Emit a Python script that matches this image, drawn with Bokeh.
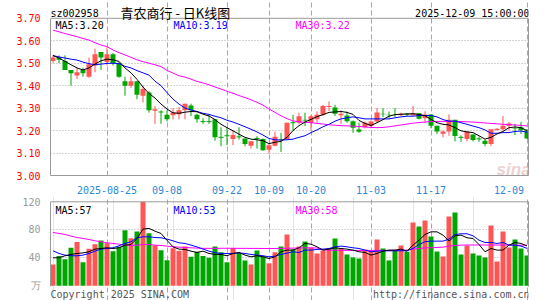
import numpy as np
from bokeh.plotting import figure
from bokeh.layouts import column
from bokeh.models import Range1d, FixedTicker, NumeralTickFormatter, Label, Grid, LinearAxis, Span
from bokeh.embed import file_html
from bokeh.resources import INLINE

# ---------------- data ----------------
open_ = [3.510, 3.525, 3.510, 3.470, 3.445, 3.470, 3.440, 3.490, 3.550, 3.505,
         3.540, 3.500, 3.420, 3.400, 3.420, 3.355, 3.370, 3.288, 3.285, 3.270,
         3.268, 3.273, 3.290, 3.312, 3.270, 3.240, 3.240, 3.250, 3.170, 3.177,
         3.162, 3.172, 3.165, 3.133, 3.165, 3.162, 3.115, 3.133, 3.162, 3.162,
         3.235, 3.235, 3.248, 3.235, 3.250, 3.270, 3.305, 3.303, 3.268, 3.267,
         3.242, 3.205, 3.215, 3.220, 3.240, 3.275, 3.270, 3.273, 3.268, 3.273,
         3.268, 3.277, 3.255, 3.272, 3.222, 3.186, 3.196, 3.248, 3.170, 3.163,
         3.183, 3.163, 3.155, 3.140, 3.203, 3.206, 3.222, 3.212, 3.215, 3.200]
close = [3.525, 3.515, 3.470, 3.455, 3.460, 3.455, 3.495, 3.540, 3.525, 3.540,
         3.500, 3.440, 3.400, 3.420, 3.360, 3.385, 3.290, 3.295, 3.280, 3.250,
         3.280, 3.290, 3.320, 3.290, 3.250, 3.240, 3.240, 3.170, 3.170, 3.177,
         3.180, 3.172, 3.140, 3.152, 3.165, 3.112, 3.135, 3.172, 3.160, 3.235,
         3.235, 3.264, 3.245, 3.264, 3.270, 3.310, 3.310, 3.275, 3.275, 3.242,
         3.213, 3.195, 3.235, 3.240, 3.280, 3.273, 3.268, 3.272, 3.275, 3.273,
         3.277, 3.253, 3.272, 3.222, 3.196, 3.196, 3.248, 3.176, 3.170, 3.196,
         3.158, 3.163, 3.140, 3.206, 3.208, 3.222, 3.232, 3.209, 3.203, 3.165]
high = [3.535, 3.535, 3.535, 3.470, 3.480, 3.480, 3.525, 3.565, 3.550, 3.570,
        3.545, 3.505, 3.440, 3.440, 3.420, 3.400, 3.375, 3.310, 3.290, 3.290,
        3.300, 3.305, 3.320, 3.320, 3.275, 3.255, 3.270, 3.250, 3.215, 3.215,
        3.200, 3.215, 3.165, 3.152, 3.175, 3.165, 3.140, 3.195, 3.190, 3.235,
        3.270, 3.280, 3.280, 3.270, 3.285, 3.315, 3.330, 3.315, 3.290, 3.285,
        3.245, 3.235, 3.240, 3.245, 3.300, 3.300, 3.285, 3.300, 3.280, 3.278,
        3.310, 3.277, 3.286, 3.272, 3.222, 3.200, 3.272, 3.248, 3.178, 3.196,
        3.183, 3.173, 3.160, 3.206, 3.210, 3.265, 3.238, 3.230, 3.238, 3.207]
low = [3.500, 3.500, 3.470, 3.400, 3.430, 3.440, 3.435, 3.460, 3.470, 3.490,
       3.490, 3.435, 3.355, 3.390, 3.340, 3.325, 3.280, 3.230, 3.230, 3.240,
       3.250, 3.250, 3.250, 3.265, 3.235, 3.230, 3.230, 3.155, 3.130, 3.135,
       3.135, 3.160, 3.130, 3.120, 3.120, 3.110, 3.097, 3.130, 3.105, 3.160,
       3.200, 3.228, 3.220, 3.200, 3.235, 3.265, 3.287, 3.265, 3.230, 3.235,
       3.190, 3.190, 3.210, 3.210, 3.235, 3.260, 3.255, 3.260, 3.265, 3.265,
       3.265, 3.250, 3.235, 3.210, 3.185, 3.170, 3.177, 3.152, 3.150, 3.152,
       3.152, 3.150, 3.130, 3.130, 3.200, 3.200, 3.200, 3.180, 3.185, 3.162]
ma5 = [3.534, 3.523, 3.508, 3.493, 3.479, 3.470, 3.479, 3.496, 3.511, 3.518,
       3.515, 3.508, 3.479, 3.457, 3.428, 3.394, 3.365, 3.345, 3.318, 3.296,
       3.279, 3.277, 3.282, 3.285, 3.284, 3.273, 3.265, 3.249, 3.228, 3.213,
       3.199, 3.184, 3.170, 3.162, 3.159, 3.155, 3.142, 3.148, 3.152, 3.170,
       3.200, 3.222, 3.238, 3.250, 3.262, 3.271, 3.281, 3.283, 3.285, 3.281,
       3.272, 3.245, 3.232, 3.223, 3.235, 3.249, 3.264, 3.271, 3.273, 3.274,
       3.275, 3.272, 3.266, 3.250, 3.235, 3.228, 3.225, 3.213, 3.199, 3.194,
       3.191, 3.177, 3.162, 3.170, 3.185, 3.196, 3.213, 3.216, 3.213, 3.200]
ma10 = [3.534, 3.528, 3.523, 3.518, 3.514, 3.505, 3.498, 3.493, 3.496, 3.499,
        3.500, 3.498, 3.486, 3.479, 3.467, 3.457, 3.447, 3.420, 3.400, 3.369,
        3.340, 3.318, 3.300, 3.292, 3.285, 3.277, 3.272, 3.264, 3.257, 3.246,
        3.238, 3.228, 3.217, 3.206, 3.194, 3.180, 3.165, 3.159, 3.158, 3.159,
        3.162, 3.170, 3.177, 3.191, 3.203, 3.217, 3.228, 3.242, 3.252, 3.257,
        3.261, 3.257, 3.252, 3.252, 3.252, 3.252, 3.252, 3.257, 3.261, 3.264,
        3.264, 3.267, 3.267, 3.267, 3.261, 3.249, 3.242, 3.242, 3.235, 3.228,
        3.220, 3.213, 3.203, 3.188, 3.188, 3.191, 3.191, 3.196, 3.198, 3.193]
ma30 = [3.647, 3.640, 3.632, 3.625, 3.618, 3.610, 3.603, 3.591, 3.581, 3.574,
        3.559, 3.547, 3.537, 3.526, 3.515, 3.507, 3.500, 3.493, 3.485, 3.468,
        3.456, 3.444, 3.438, 3.429, 3.419, 3.412, 3.404, 3.394, 3.385, 3.375,
        3.366, 3.356, 3.347, 3.337, 3.326, 3.313, 3.296, 3.281, 3.266, 3.253,
        3.243, 3.239, 3.237, 3.235, 3.232, 3.229, 3.226, 3.224, 3.222, 3.221,
        3.220, 3.218, 3.216, 3.214, 3.213, 3.214, 3.217, 3.221, 3.225, 3.229,
        3.233, 3.236, 3.238, 3.240, 3.241, 3.241, 3.241, 3.240, 3.240, 3.239,
        3.238, 3.236, 3.234, 3.232, 3.230, 3.228, 3.226, 3.225, 3.223, 3.221]
volume = [30.5, 42.5, 37.8, 54.5, 62.4, 33.8, 53.1, 59.3, 64.8, 60.7,
          49.5, 55.8, 79.3, 68.0, 77.6, 120.0, 75.1, 57.8, 50.8, 36.4,
          53.8, 50.2, 56.1, 41.4, 48.8, 42.5, 40.0, 56.2, 47.8, 33.5,
          54.0, 46.9, 36.2, 30.5, 50.5, 42.4, 32.1, 47.8, 56.2, 73.3,
          51.9, 56.2, 63.3, 54.8, 46.2, 50.5, 53.3, 67.6, 53.3, 44.8,
          40.5, 39.0, 51.9, 50.5, 66.2, 53.3, 36.2, 50.5, 57.6, 48.6,
          90.5, 84.8, 93.3, 70.5, 49.0, 41.9, 99.0, 104.8, 44.8, 57.6,
          46.2, 43.3, 40.5, 86.2, 34.8, 77.6, 54.8, 66.2, 53.3, 43.3]
vma5 = [40.0, 40.0, 42.9, 44.8, 46.2, 47.0, 48.6, 52.4, 53.3, 54.3,
        53.3, 54.3, 58.1, 59.0, 67.6, 81.0, 82.0, 78.0, 74.8, 65.0,
        55.7, 52.4, 51.9, 49.5, 47.6, 49.5, 46.2, 44.8, 44.8, 42.9,
        46.2, 47.6, 43.8, 41.4, 42.9, 41.4, 39.0, 41.4, 48.6, 51.0,
        51.0, 54.3, 60.5, 59.5, 55.7, 51.0, 52.4, 54.3, 53.3, 52.4,
        51.0, 48.6, 47.6, 43.8, 46.2, 49.5, 51.0, 51.0, 52.4, 49.5,
        58.1, 65.2, 73.3, 77.1, 77.1, 72.4, 63.8, 71.4, 72.4, 68.6,
        67.6, 59.0, 48.6, 53.3, 51.0, 51.0, 58.1, 61.9, 60.5, 57.0]
vma10 = [50.0, 46.2, 43.8, 42.9, 42.9, 43.8, 46.2, 49.5, 52.4, 53.3,
         54.3, 57.1, 60.5, 62.9, 68.6, 70.0, 70.0, 69.0, 68.6, 66.7,
         64.3, 61.4, 60.5, 58.1, 55.5, 52.5, 49.5, 47.2, 46.2, 46.2,
         46.2, 47.0, 46.2, 44.8, 43.8, 42.9, 41.4, 42.4, 44.8, 46.7,
         48.6, 47.6, 51.0, 51.0, 51.9, 52.4, 53.3, 55.7, 56.7, 55.7,
         54.3, 53.3, 51.0, 48.6, 49.5, 50.0, 50.0, 50.0, 50.0, 50.0,
         53.3, 59.0, 62.9, 63.8, 63.8, 63.8, 66.7, 73.3, 74.3, 74.3,
         71.4, 65.2, 61.9, 61.9, 60.5, 61.9, 58.1, 58.1, 56.7, 53.5]
vma30 = [76.2, 74.8, 73.3, 71.0, 69.0, 67.6, 66.2, 64.3, 62.9, 61.4,
         60.5, 59.5, 58.1, 57.6, 58.1, 59.0, 59.0, 58.1, 57.6, 56.7,
         55.7, 55.2, 54.8, 54.3, 53.8, 53.5, 53.5, 53.5, 53.6, 53.6,
         53.6, 53.5, 53.5, 53.4, 53.4, 53.3, 53.3, 53.3, 53.4, 53.6,
         53.8, 54.0, 54.2, 54.2, 54.0, 51.5, 51.0, 50.8, 50.8, 50.6,
         50.6, 50.5, 50.5, 50.5, 50.6, 50.6, 50.6, 50.6, 50.8, 51.0,
         52.4, 53.3, 54.3, 54.3, 54.8, 55.2, 56.7, 57.6, 58.1, 58.3,
         58.3, 58.3, 58.3, 58.3, 58.2, 58.2, 58.2, 58.1, 58.0, 58.0]

date_tick_idx = [9, 19, 29, 36, 43, 53, 63, 79]
date_tick_labels = ["2025-08-25", "09-08", "09-22", "10-09", "10-20", "11-03", "11-17", "12-09"]
price_ticks = [3.00, 3.10, 3.20, 3.30, 3.40, 3.50, 3.60, 3.70]
volume_ticks = [0, 40, 80, 120]
volume_tick_labels = ["万", "40", "80", "120"]
ma_price_last = [3.20, 3.19, 3.22]
ma_volume_last = [57, 53, 58]
code = "sz002958"
title = "青农商行 - 日K线图"
stamp = "2025-12-09 15:00:00"
footer_left = "Copyright 2025 SINA.COM"
footer_right = "http://finance.sina.com.cn"

# ---------------- styling ----------------
RED = "#ff5555"
GREEN = "#00a600"
MA_COLORS = ["#000000", "#0000ff", "#ff00ff"]
GRID = "#a8a8a8"
FRAME = "#9a9a9a"
DATE_COLOR = "#2a8ad8"
MONO = "DejaVu Sans Mono"
PX_PER_PRICE = 159 / 0.7     # pixels per 1.00 of price
PX_PER_VOL = 0.7              # pixels per 1 (万) of volume
LAST_LABEL_SHIFT = 3          # last date label is pulled inward (in candle slots) to stay inside

o = np.array(open_); c = np.array(close); h = np.array(high); l = np.array(low)
idx = np.arange(len(c))
colors = np.where(c > o, RED, GREEN)
cross = np.abs(c - o) < 0.001
body = ~cross

x_start = -2.5 / 6
xr = Range1d(x_start, x_start + 478 / 6)

def lab(p, x, y, text, color="#000000", size="10px", font=MONO, align="left", **kw):
    p.add_layout(Label(x=x, y=y, x_units="screen", y_units="screen", text=text,
                       text_color=color, text_font=font, text_font_size=size,
                       text_align=align, text_baseline="alphabetic", **kw))

def style_axis(ax, color):
    ax.major_label_text_color = color
    ax.major_label_text_font = MONO
    ax.major_label_text_font_size = "10px"
    ax.major_label_standoff = 4
    ax.major_tick_line_color = None
    ax.minor_tick_line_color = None

# ---------------- price panel (frame includes the header strip) ----------------
p_lo, p_hi = price_ticks[0], price_ticks[-1]
p1 = figure(width=545, height=196, x_range=xr,
            y_range=Range1d(p_lo, p_hi + 18 / PX_PER_PRICE),
            output_backend="svg", toolbar_location=None, title=None,
            min_border_left=50, min_border_right=17, min_border_top=0,
            min_border_bottom=19)
p1.background_fill_color = "white"
p1.border_fill_color = "white"
p1.outline_line_color = None

label_ticks = date_tick_idx[:-1] + [date_tick_idx[-1] - LAST_LABEL_SHIFT]
p1.xaxis.ticker = FixedTicker(ticks=label_ticks)
p1.xaxis.major_label_overrides = dict(zip(label_ticks, date_tick_labels))
style_axis(p1.xaxis, DATE_COLOR)
p1.xaxis.axis_line_color = FRAME

p1.yaxis.ticker = FixedTicker(ticks=price_ticks)
p1.yaxis.formatter = NumeralTickFormatter(format="0.00")
style_axis(p1.yaxis, "#ff0000")
p1.yaxis.bounds = (p_lo, p_hi)
p1.yaxis.axis_line_color = FRAME

rax1 = LinearAxis(ticker=FixedTicker(ticks=[]), bounds=(p_lo, p_hi),
                  axis_line_color=FRAME, major_tick_line_color=None,
                  minor_tick_line_color=None)
p1.add_layout(rax1, "right")
p1.add_layout(Span(location=p_hi, dimension="width", line_color=FRAME, line_width=1))

p1.xgrid.ticker = FixedTicker(ticks=date_tick_idx)
p1.xgrid.grid_line_color = GRID
p1.xgrid.grid_line_dash = "5 3"
p1.xgrid.bounds = (p_lo, p_hi)
p1.ygrid.ticker = FixedTicker(ticks=price_ticks[1:-1])
p1.ygrid.grid_line_color = GRID
p1.ygrid.grid_line_dash = "1 2"

# candles
p1.segment(x0=idx, y0=l, x1=idx, y1=h, line_color=colors, line_width=1)
p1.vbar(x=idx[body], top=np.maximum(o, c)[body], bottom=np.minimum(o, c)[body],
        width=5 / 6, fill_color=colors[body], line_color=None)
p1.segment(x0=idx[cross] - 0.42, y0=c[cross], x1=idx[cross] + 0.42, y1=c[cross],
           line_color=colors[cross], line_width=1)
for series, col in zip([ma30, ma10, ma5], MA_COLORS[::-1]):
    p1.line(idx, series, line_color=col, line_width=1)

# header and legend texts (screen units from the frame's bottom-left corner)
lab(p1, 0, 162, code)
lab(p1, 70, 163, title, size="13px", font="Noto Sans CJK SC")
lab(p1, 479, 162, stamp, align="right")
for name, val, col, xx in zip(["MA5", "MA10", "MA30"], ma_price_last, MA_COLORS, [5, 123, 245]):
    lab(p1, xx, 150, f"{name}:{val:.2f}", color=col)
lab(p1, 446, 6, "sina", color="#e0a8a8", size="17px", font="Liberation Sans",
    text_font_style="bold italic", text_alpha=0.55)

# ---------------- volume panel (frame includes the footer strip) ----------------
v_top = volume_ticks[-1]
p2 = figure(width=545, height=104, x_range=xr,
            y_range=Range1d(-14.7 / PX_PER_VOL, v_top + 5.3 / PX_PER_VOL),
            output_backend="svg", toolbar_location=None, title=None,
            x_axis_location=None,
            min_border_left=50, min_border_right=17, min_border_top=0,
            min_border_bottom=0)
p2.background_fill_color = "white"
p2.border_fill_color = "white"
p2.outline_line_color = None

p2.yaxis.ticker = FixedTicker(ticks=volume_ticks)
p2.yaxis.major_label_overrides = dict(zip(volume_ticks, volume_tick_labels))
style_axis(p2.yaxis, "#9a9a9a")
p2.yaxis.bounds = (-1, v_top)
p2.yaxis.axis_line_color = FRAME

rax2 = LinearAxis(ticker=FixedTicker(ticks=[]), bounds=(-1, v_top),
                  axis_line_color=FRAME, major_tick_line_color=None,
                  minor_tick_line_color=None)
p2.add_layout(rax2, "right")
p2.add_layout(Span(location=v_top, dimension="width", line_color=FRAME, line_width=1))

p2.ygrid.ticker = FixedTicker(ticks=volume_ticks[1:-1])
p2.ygrid.grid_line_color = GRID
p2.ygrid.grid_line_dash = "1 2"
p2.add_layout(Grid(dimension=0, ticker=FixedTicker(ticks=date_tick_idx), bounds=(-1, v_top),
                   grid_line_color=GRID, grid_line_dash="5 3"))

p2.vbar(x=idx, top=volume, bottom=0, width=5 / 6, fill_color=colors, line_color=None)
for series, col in zip([vma30, vma10, vma5], MA_COLORS[::-1]):
    p2.line(idx, series, line_color=col, line_width=1)

for name, val, col, xx in zip(["MA5", "MA10", "MA30"], ma_volume_last, MA_COLORS, [5, 123, 245]):
    lab(p2, xx, 90, f"{name}:{val}", color=col)
lab(p2, 0, 6.5, footer_left, color="#555555")
lab(p2, 479, 6.5, footer_right, color="#555555", align="right")

layout = column(p1, p2)
open("out.html", "w").write(file_html(layout, INLINE))
